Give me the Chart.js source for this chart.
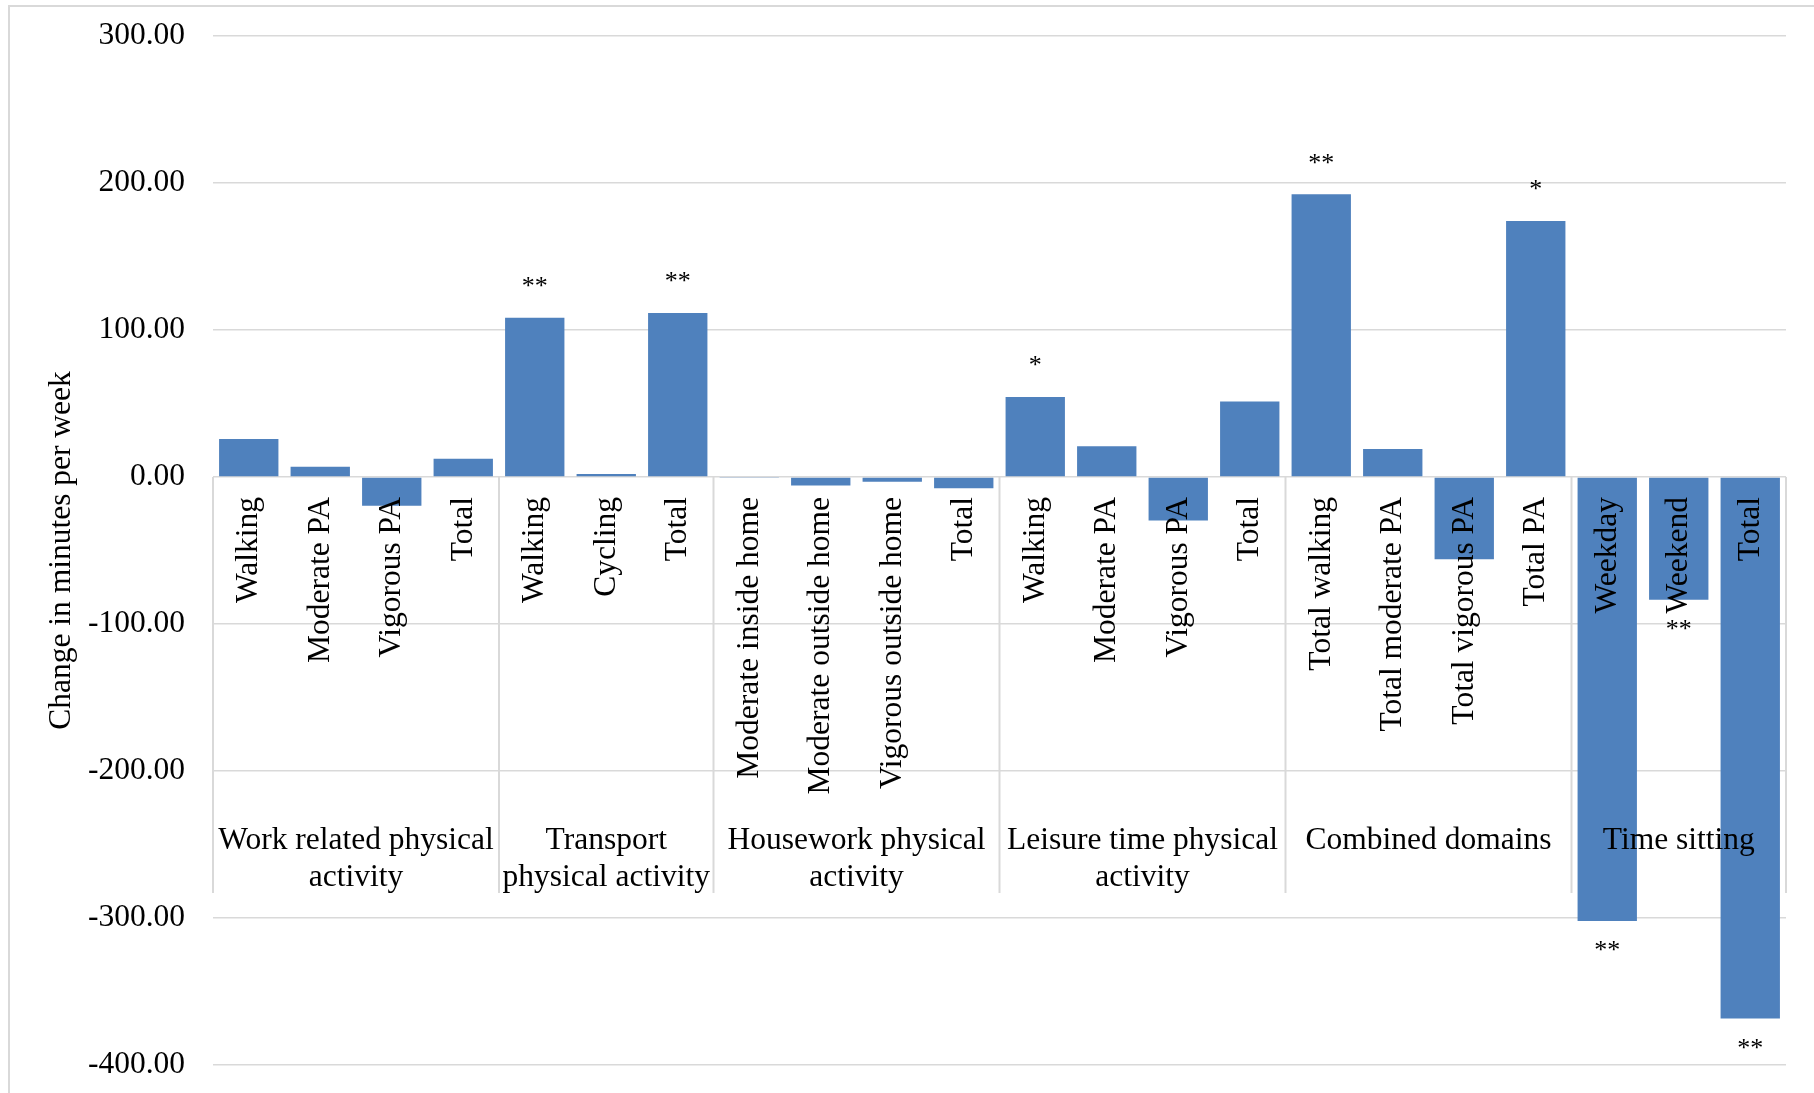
<!DOCTYPE html>
<html>
<head>
<meta charset="utf-8">
<title>Change in minutes per week</title>
<script src="https://cdn.jsdelivr.net/npm/chart.js@4.4.1/dist/chart.umd.min.js"></script>
<style>
  html, body { margin: 0; padding: 0; background: #fff; }
  #wrap { position: relative; width: 1814px; height: 1093px; }
</style>
</head>
<body>
<div id="wrap"><canvas id="barChart"></canvas></div>
<script>
// data
const categories = [
  'Walking', 'Moderate PA', 'Vigorous PA', 'Total',
  'Walking', 'Cycling', 'Total',
  'Moderate inside home', 'Moderate outside home', 'Vigorous outside home', 'Total',
  'Walking', 'Moderate PA', 'Vigorous PA', 'Total',
  'Total walking', 'Total moderate PA', 'Total vigorous PA', 'Total PA',
  'Weekday', 'Weekend', 'Total'
];
const values = [
  25.8, 6.9, -19.6, 12.4,
  108.3, 2.0, 111.6,
  -0.3, -5.7, -3.3, -7.7,
  54.4, 21.0, -29.6, 51.3,
  192.3, 19.0, -56.0, 174.2,
  -302.0, -83.5, -368.4
];
const significance = [
  '', '', '', '',
  '**', '', '**',
  '', '', '', '',
  '*', '', '', '',
  '**', '', '', '*',
  '**', '**', '**'
];
const groupNames = [
  ['Work related physical', 'activity'],
  ['Transport', 'physical activity'],
  ['Housework physical', 'activity'],
  ['Leisure time physical', 'activity'],
  ['Combined domains'],
  ['Time sitting']
];
const groupSizes = [4, 3, 4, 4, 4, 3];
const yMin = -400, yMax = 300, yStep = 100;

const serif = "'Liberation Serif', 'Times New Roman', serif";
const gridColor = '#d9d9d9';
Chart.defaults.color = '#000';
Chart.defaults.font.family = serif;

// frame + group boxes, group labels, significance stars
const extras = {
  id: 'extras',
  beforeDraw(chart) {
    const ctx = chart.ctx;
    ctx.save();
    ctx.strokeStyle = gridColor;
    ctx.lineWidth = 2;
    ctx.strokeRect(9, 6, chart.width + 20, chart.height + 20);
    ctx.restore();
  },
  afterDraw(chart) {
    const ctx = chart.ctx;
    const x = chart.scales.x, y = chart.scales.y;
    const y0 = y.getPixelForValue(0);
    const half = (x.getPixelForValue(1) - x.getPixelForValue(0)) / 2;

    // vertical separators between groups in the label area
    ctx.save();
    ctx.strokeStyle = gridColor;
    ctx.lineWidth = 2;
    let idx = 0;
    const edges = [x.getPixelForValue(0) - half];
    groupSizes.forEach(n => {
      idx += n;
      edges.push(x.getPixelForValue(idx - 1) + half);
    });
    edges.forEach(px => {
      ctx.beginPath();
      ctx.moveTo(px, y0);
      ctx.lineTo(px, y0 + 416);
      ctx.stroke();
    });

    // group labels
    ctx.fillStyle = '#000';
    ctx.font = '31.5px ' + serif;
    ctx.textAlign = 'center';
    ctx.textBaseline = 'alphabetic';
    groupNames.forEach((lines, g) => {
      const cx = (edges[g] + edges[g + 1]) / 2;
      lines.forEach((t, k) => ctx.fillText(t, cx, y0 + 371.5 + k * 37));
    });

    // significance marks
    const meta = chart.getDatasetMeta(0);
    ctx.font = '26px ' + serif;
    ctx.textBaseline = 'middle';
    significance.forEach((s, i) => {
      if (!s) return;
      const el = meta.data[i];
      const ty = values[i] >= 0 ? el.y - 30.5 : el.y + 30.5;
      ctx.fillText(s, el.x, ty);
    });
    ctx.restore();
  }
};

new Chart(document.getElementById('barChart').getContext('2d'), {
  type: 'bar',
  data: {
    labels: categories,
    datasets: [{
      data: values,
      backgroundColor: '#4f81bd',
      borderWidth: 0,
      barPercentage: 0.83,
      categoryPercentage: 1.0
    }]
  },
  options: {
    responsive: true,
    maintainAspectRatio: false,
    animation: false,
    layout: { padding: { left: 39, top: 36, right: 28, bottom: 28 } },
    plugins: {
      legend: { display: false },
      tooltip: { enabled: false }
    },
    scales: {
      x: {
        position: { y: 0 },
        grid: { display: false, drawTicks: false },
        border: { display: false },
        ticks: {
          z: 1,
          autoSkip: false,
          maxRotation: 90,
          minRotation: 90,
          padding: 20,
          color: '#000',
          font: { size: 31.5, family: serif }
        },
        afterFit(scale) { scale.height = 0; }
      },
      y: {
        min: yMin,
        max: yMax,
        grid: { color: gridColor, lineWidth: 1.5, drawTicks: false },
        border: { display: false },
        ticks: {
          stepSize: yStep,
          padding: 28,
          color: '#000',
          font: { size: 31.5, family: serif },
          callback: v => v.toFixed(2)
        },
        title: {
          display: true,
          text: 'Change in minutes per week',
          color: '#000',
          font: { size: 31.5, family: serif },
          padding: { top: 4, bottom: 9 }
        },
        afterFit(scale) {
          scale.width = 174;
          scale.paddingTop = 0;
          scale.paddingBottom = 0;
        }
      }
    }
  },
  plugins: [extras]
});
</script>
</body>
</html>
